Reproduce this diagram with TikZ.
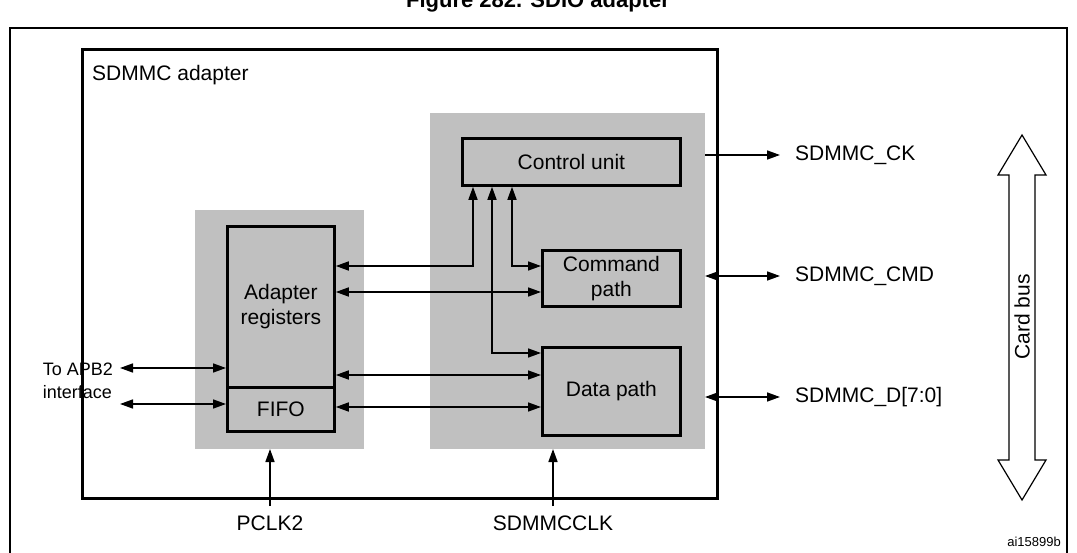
\documentclass[tikz,border=0pt]{standalone}
\usepackage{fontspec}
\setmainfont{Liberation Sans}
\usetikzlibrary{arrows.meta}

\begin{document}
\begin{tikzpicture}[x=1pt,y=1pt,yscale=-1,
  blk/.style={draw,line width=2.8pt,fill={rgb,255:red,192;green,192;blue,192},inner sep=0pt},
  zone/.style={fill={rgb,255:red,192;green,192;blue,192},draw=none},
  lbl/.style={font=\fontsize{21}{25}\selectfont,inner sep=0pt},
  arr/.style={line width=1.6pt,-{Triangle[length=13pt,width=9pt]}},
  biarr/.style={line width=1.6pt,{Triangle[length=13pt,width=9pt]}-{Triangle[length=13pt,width=9pt]}}]
\useasboundingbox (0,0) rectangle (1077,553);

% title, cut by the page top
\node[font=\bfseries\fontsize{22}{26}\selectfont,anchor=base] (title) at (538,8) {Figure 282. SDIO adapter};
\draw[line width=2pt] (10,553) -- (10,28) -- (1067,28) -- (1067,553);

% adapter frame and grey zones
\draw[line width=3pt] (82,50) rectangle (717,498);
\node[lbl,anchor=north west] (adp) at (92,65) {SDMMC adapter};
\fill[zone] (195,210) rectangle (364,449);
\fill[zone] (430,113) rectangle (705,449);

% blocks
\node[blk,minimum width=218pt,minimum height=47pt,anchor=north west,lbl] (ctrl) at (461,137) {Control unit};
\node[blk,minimum width=138pt,minimum height=56pt,anchor=north west,lbl,align=center] (cmd) at (541,249) {Command\\path};
\node[blk,minimum width=138pt,minimum height=88pt,anchor=north west,lbl] (dat) at (541,346) {Data path};
\node[blk,minimum width=107pt,minimum height=161pt,anchor=north west,lbl,align=center] (reg) at (226,225) {Adapter\\registers};
\node[blk,minimum width=107pt,minimum height=44pt,anchor=north west,lbl] (fifo) at (226,386) {FIFO};

% internal connections
\draw[biarr] (reg.east|-0,266) -- (473,266) -- (ctrl.south-|473,0);
\draw[biarr] (reg.east|-0,292) -- (cmd.west|-0,292);
\draw[biarr] (ctrl.south-|492,0) -- (492,353) -- (dat.west|-0,353);
\draw[biarr] (ctrl.south-|512,0) -- (512,266) -- (cmd.west|-0,266);
\draw[biarr] (reg.east|-0,375) -- (dat.west|-0,375);
\draw[biarr] (fifo.east|-0,407) -- (dat.west|-0,407);

% APB2 side
\node[lbl,font=\fontsize{18}{23}\selectfont,align=left,anchor=east] (apb) at (113,381) {To APB2\\interface};
\draw[biarr] (apb.east|-0,368) ++(7,0) -- (reg.west|-0,368);
\draw[biarr] (apb.east|-0,404) ++(7,0) -- (fifo.west|-0,404);

% clocks
\node[lbl,anchor=north] (pclk) at (270,516) {PCLK2};
\node[lbl,anchor=north] (sdclk) at (553,516) {SDMMCCLK};
\draw[arr] (pclk.north) ++(0,-10) -- (270,449);
\draw[arr] (sdclk.north) ++(0,-10) -- (553,449);

% card side
\node[lbl,anchor=west] (ck) at (795,155) {SDMMC\_CK};
\node[lbl,anchor=west] (cmdo) at (795,276) {SDMMC\_CMD};
\node[lbl,anchor=west] (dato) at (795,397) {SDMMC\_D[7:0]};
\draw[arr,shorten >=15pt] (705,155) -- (ck.west);
\draw[biarr,shorten >=15pt] (705,276) -- (cmdo.west);
\draw[biarr,shorten >=15pt] (705,397) -- (dato.west);

% card bus
\draw[line width=1.2pt] (1022,135) -- (1046,175) -- (1035,175) -- (1035,460) -- (1046,460)
  -- (1022,500) -- (998,460) -- (1009,460) -- (1009,175) -- (998,175) -- cycle;
\node[lbl,rotate=90] (bus) at (1022,317) {Card bus};

\node[font=\fontsize{13}{15}\selectfont,anchor=east,inner sep=0pt] (ref) at (1061,542) {ai15899b};
\end{tikzpicture}
\end{document}
